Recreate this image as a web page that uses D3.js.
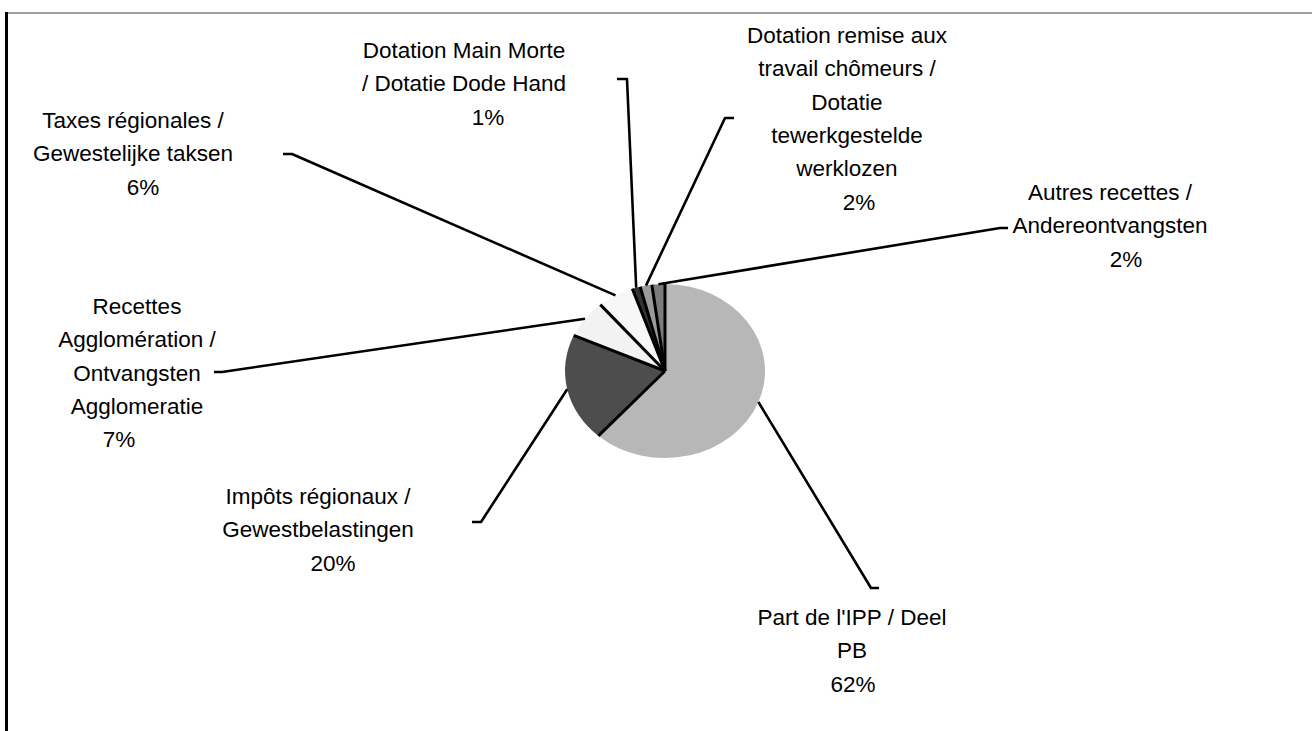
<!DOCTYPE html>
<html>
<head>
<meta charset="utf-8">
<script src="https://cdn.jsdelivr.net/npm/d3@7"></script>
<style>
  html, body { margin: 0; padding: 0; background: #fff; }
  svg { display: block; }
  text { font-family: "Liberation Sans", Arial, sans-serif; font-size: 22.5px; fill: #000; }
</style>
</head>
<body>
<svg id="chart" width="1312" height="731"></svg>
<script>
// ---- Data ----
const categories = [
  "Part de l'IPP / Deel PB",
  "Impôts régionaux / Gewestbelastingen",
  "Recettes Agglomération / Ontvangsten Agglomeratie",
  "Taxes régionales / Gewestelijke taksen",
  "Dotation Main Morte / Dotatie Dode Hand",
  "Dotation remise aux travail chômeurs / Dotatie tewerkgestelde werklozen",
  "Autres recettes / Andereontvangsten"
];
const values = [61.6, 20.1, 7.1, 5.9, 1.3, 1.9, 2.1];
const percentLabels = ["62%", "20%", "7%", "6%", "1%", "2%", "2%"];
const labelLines = [
  ["Part de l'IPP / Deel", "PB"],
  ["Impôts régionaux /", "Gewestbelastingen"],
  ["Recettes", "Agglomération /", "Ontvangsten", "Agglomeratie"],
  ["Taxes régionales /", "Gewestelijke taksen"],
  ["Dotation Main Morte", "/ Dotatie Dode Hand"],
  ["Dotation remise aux", "travail chômeurs /", "Dotatie", "tewerkgestelde", "werklozen"],
  ["Autres recettes /", "Andereontvangsten"]
];
const sliceColors = ["#b7b7b7", "#4d4d4d", "#f2f2f2", "#f7f7f7", "#333333", "#9a9a9a", "#7c7c7c"];

// ---- Layout (positions only) ----
const cx = 665, cy = 371, rx = 100, ry = 87;
const lineH = 33.3;
const labelLayout = [
  { x: 852, y: 625, pdx: 1,   ex: 871, ey: 588, tick: 8 },
  { x: 318, y: 504, pdx: 15,  ex: 481, ey: 522, tick: -9 },
  { x: 137, y: 314, pdx: -18, ex: 222, ey: 372, tick: -8 },
  { x: 133, y: 128, pdx: 10,  ex: 292, ey: 154, tick: -9 },
  { x: 464, y: 58,  pdx: 24,  ex: 627, ey: 79,  tick: -10 },
  { x: 847, y: 43,  pdx: 12,  ex: 725, ey: 118, tick: 9 },
  { x: 1110, y: 200, pdx: 16, ex: 1000, ey: 228, tick: 8 }
];

const svg = d3.select("#chart");

// Frame
svg.append("line").attr("x1", 5).attr("y1", 13).attr("x2", 1312).attr("y2", 13)
  .attr("stroke", "#a0a0a0").attr("stroke-width", 2);
svg.append("line").attr("x1", 6.5).attr("y1", 12).attr("x2", 6.5).attr("y2", 731)
  .attr("stroke", "#000").attr("stroke-width", 3);

// Pie
const pie = d3.pie().value(d => d).sort(null);
const arcs = pie(values);
const arc = d3.arc().innerRadius(0).outerRadius(rx);
const pieG = svg.append("g").attr("transform", `translate(${cx},${cy}) scale(1,${ry / rx})`);
pieG.selectAll("path").data(arcs).join("path")
  .attr("d", arc)
  .attr("fill", (d, i) => sliceColors[i]);

// Screen-space point on the ellipse for a given angle
const ex = a => cx + rx * Math.sin(a);
const ey = a => cy - ry * Math.cos(a);

// Radial boundary strokes
svg.append("g").selectAll("line").data(arcs).join("line")
  .attr("x1", cx).attr("y1", cy)
  .attr("x2", d => ex(d.startAngle)).attr("y2", d => ey(d.startAngle))
  .attr("stroke", "#000").attr("stroke-width", 3).attr("stroke-linecap", "butt");

// Leader lines
const leaderG = svg.append("g");
arcs.forEach((d, i) => {
  const mid = (d.startAngle + d.endAngle) / 2;
  const L = labelLayout[i];
  const p = d3.path();
  p.moveTo(ex(mid), ey(mid));
  p.lineTo(L.ex, L.ey);
  p.lineTo(L.ex + L.tick, L.ey);
  leaderG.append("path").attr("d", p.toString())
    .attr("fill", "none").attr("stroke", "#000").attr("stroke-width", 2.6)
    .attr("stroke-linejoin", "round");
});

// Labels
const labelG = svg.append("g");
labelLines.forEach((lines, i) => {
  const L = labelLayout[i];
  const t = labelG.append("text").attr("text-anchor", "middle");
  lines.forEach((ln, j) => {
    t.append("tspan").attr("x", L.x).attr("y", L.y + j * lineH).text(ln);
  });
  t.append("tspan").attr("x", L.x + L.pdx).attr("y", L.y + lines.length * lineH).text(percentLabels[i]);
});
</script>
</body>
</html>
